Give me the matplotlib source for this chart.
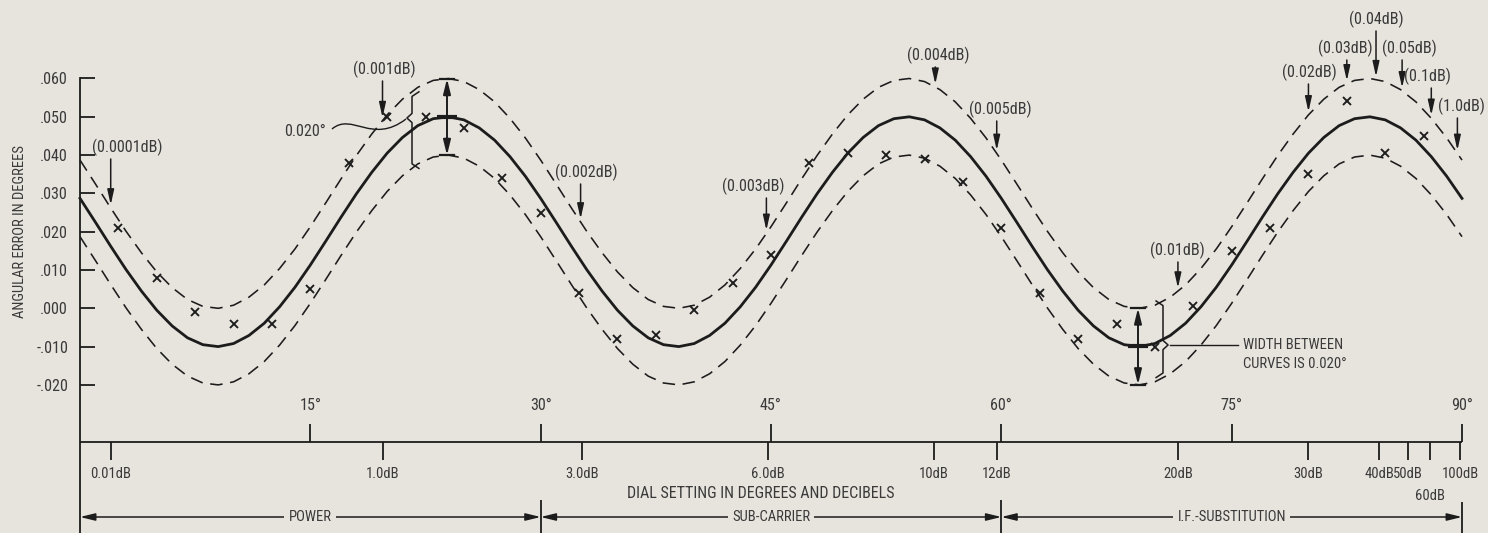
import numpy as np
import matplotlib
matplotlib.use('Agg')
import matplotlib.pyplot as plt
from matplotlib import font_manager as fm
from matplotlib.path import Path
from matplotlib.patches import PathPatch

# ---------------- data ----------------
dial_deg = list(range(0, 91))
solid_err = [
    0.0287, 0.0225, 0.0162, 0.0101, 0.0045, -0.0005, -0.0046, -0.0077, -0.0095, -0.0100,
    -0.0092, -0.0071, -0.0039, 0.0004, 0.0055, 0.0113, 0.0175, 0.0238, 0.0299, 0.0355,
    0.0405, 0.0446, 0.0477, 0.0495, 0.0500, 0.0492, 0.0471, 0.0439, 0.0396, 0.0345,
    0.0287, 0.0225, 0.0162, 0.0101, 0.0045, -0.0005, -0.0046, -0.0077, -0.0095, -0.0100,
    -0.0092, -0.0071, -0.0039, 0.0004, 0.0055, 0.0113, 0.0175, 0.0238, 0.0299, 0.0355,
    0.0405, 0.0446, 0.0477, 0.0495, 0.0500, 0.0492, 0.0471, 0.0439, 0.0396, 0.0345,
    0.0287, 0.0225, 0.0162, 0.0101, 0.0045, -0.0005, -0.0046, -0.0077, -0.0095, -0.0100,
    -0.0092, -0.0071, -0.0039, 0.0004, 0.0055, 0.0113, 0.0175, 0.0238, 0.0299, 0.0355,
    0.0405, 0.0446, 0.0477, 0.0495, 0.0500, 0.0492, 0.0471, 0.0439, 0.0396, 0.0345,
    0.0287]
band_half_width = 0.010

point_deg = [2.5, 5.0, 7.5, 10.0, 12.5, 15.0, 17.5, 20.0, 22.5, 25.0, 27.5, 30.0,
             32.5, 35.0, 37.5, 40.0, 42.5, 45.0, 47.5, 50.0, 52.5, 55.0, 57.5, 60.0,
             62.5, 65.0, 67.5, 70.0, 72.5, 75.0, 77.5, 80.0, 82.5, 85.0, 87.5]
point_err = [0.021, 0.008, -0.001, -0.004, -0.004, 0.005, 0.038, 0.050, 0.050, 0.047,
             0.034, 0.025, 0.004, -0.008, -0.007, -0.0005, 0.0065, 0.014, 0.038, 0.0405,
             0.040, 0.039, 0.033, 0.021, 0.004, -0.008, -0.004, -0.010, 0.0005, 0.015,
             0.021, 0.035, 0.054, 0.0405, 0.045]

y_ticks = [0.060, 0.050, 0.040, 0.030, 0.020, 0.010, 0.000, -0.010, -0.020]
y_tick_labels = ['.060', '.050', '.040', '.030', '.020', '.010', '.000', '-.010', '-.020']

deg_ticks = [15, 30, 45, 60, 75, 90]
deg_labels = ['15°', '30°', '45°', '60°', '75°', '90°']

db_deg = [2.0, 19.7, 32.7, 44.8, 55.6, 59.7, 71.5, 80.0, 84.6, 86.5, 87.9, 89.9]
db_labels = ['0.01dB', '1.0dB', '3.0dB', '6.0dB', '10dB', '12dB', '20dB', '30dB',
             '40dB', '50dB', '60dB', '100dB']

err_labels = ['(0.0001dB)', '(0.001dB)', '(0.002dB)', '(0.003dB)', '(0.004dB)',
              '(0.005dB)', '(0.01dB)', '(0.02dB)', '(0.03dB)', '(0.04dB)', '(0.05dB)',
              '(0.1dB)', '(1.0dB)']
err_deg = [2.0, 19.7, 32.6, 44.7, 55.7, 59.7, 71.5, 80.0, 82.5, 84.4, 86.1, 88.0, 89.7]

range_labels = ['POWER', 'SUB-CARRIER', 'I.F.-SUBSTITUTION']
range_start = [0, 30, 60]
range_end = [30, 60, 90]

width_deg_peak = 23.9     # width marker at first maximum
width_deg_trough = 68.9   # width marker at third minimum

# ---------------- layout (pixel placement on a 1488x533 canvas) ----------------
W, H = 1488, 533
X0, PXDEG = 80.0, 1382.0 / 90.0
Y60, PXUNIT = 78.5, 3830.0


def px2x(px):
    return (px - X0) / PXDEG


def py2y(py):
    return 0.060 - (py - Y60) / PXUNIT


err_text_px = [(92, 147), (384, 69), (586, 172), (753, 186), (938, 55), (1000, 109),
               (1177, 250), (1309, 72), (1345, 48), (1376, 19), (1409, 48), (1427, 76),
               (1461, 106)]

BG = '#e7e3dd'
LC = '#1c1c1c'
TC = '#3a3a3a'

try:
    fm.findfont('Roboto Condensed', fallback_to_default=False)
    FONT = ['Roboto Condensed', 'DejaVu Sans']
    FS, FSC, FSD, FSL = 11.6, 10.5, 10.5, 11.5
except ValueError:
    FONT = ['Liberation Sans', 'DejaVu Sans']
    FS, FSC, FSD, FSL = 10.5, 9.5, 9.7, 9.8

plt.rcParams['font.family'] = FONT
plt.rcParams['lines.scale_dashes'] = False

fig = plt.figure(figsize=(W / 100, H / 100), dpi=100, facecolor=BG)
ax = fig.add_axes([0, 0, 1, 1], facecolor=BG)
ax.set_xlim(px2x(0), px2x(W))
ax.set_ylim(py2y(H), py2y(0))

# ---------------- axes ----------------
for s in ['top', 'right', 'bottom']:
    ax.spines[s].set_visible(False)
ax.spines['left'].set_position(('data', 0))
ax.spines['left'].set_bounds(py2y(H), 0.060)
ax.spines['left'].set_linewidth(1.3)
ax.spines['left'].set_color(LC)
ax.set_yticks(y_ticks)
ax.set_yticklabels(y_tick_labels)
ax.tick_params(axis='y', direction='in', length=11, width=1.3, color=LC,
               pad=8.6, labelsize=FS, labelcolor=TC)
ax.set_xticks([])

ax.text(px2x(20), 0.020, 'ANGULAR ERROR IN DEGREES', rotation=90, ha='center',
        va='center', fontsize=FSC, color=TC)

# horizontal dial axis
y_axis = py2y(442)
ax.plot([0, 90], [y_axis, y_axis], color=LC, lw=1.3, solid_capstyle='butt')
ax.vlines(deg_ticks, y_axis, py2y(424), color=LC, lw=1.3)
for d, lab in zip(deg_ticks, deg_labels):
    ax.text(d, py2y(405), lab, ha='center', va='center', fontsize=FS, color=TC)
ax.vlines(db_deg, py2y(460), y_axis, color=LC, lw=1.3)
for d, lab in zip(db_deg, db_labels):
    yy = py2y(496) if lab == '60dB' else py2y(474)
    ax.text(d, yy, lab, ha='center', va='center', fontsize=FSD, color=TC)
ax.text(px2x(761), py2y(493), 'DIAL SETTING IN DEGREES AND DECIBELS', ha='center',
        va='center', fontsize=FSL, color=TC)

# range arrows
y_rng = py2y(517)
for a, b, lab in zip(range_start, range_end, range_labels):
    ax.annotate('', xy=(a, y_rng), xytext=(b, y_rng),
                arrowprops=dict(arrowstyle='<|-|>,head_length=0.9,head_width=0.22',
                                color=LC, lw=1.1, shrinkA=0, shrinkB=0))
    ax.text((a + b) / 2, y_rng, lab, ha='center', va='center', fontsize=FSC, color=TC,
            bbox=dict(boxstyle='square,pad=0.3', fc=BG, ec='none'))
ax.vlines([30, 60], py2y(H), py2y(500), color=LC, lw=1.3)
ax.vlines([90], py2y(H), py2y(502), color=LC, lw=1.3)

# ---------------- curves ----------------
x = np.array(dial_deg, dtype=float)
ys = np.array(solid_err)
ax.plot(x, ys, color=LC, lw=2.0)
ax.plot(x, ys + band_half_width, color=LC, lw=1.15, linestyle=(0, (9, 5.5)))
ax.plot(x, ys - band_half_width, color=LC, lw=1.15, linestyle=(0, (9, 5.5)))
ax.plot(point_deg, point_err, linestyle='none', marker='x', ms=5.8, mew=1.35, color=LC)


def upper(d):
    return np.interp(d, x, ys) + band_half_width


def lower(d):
    return np.interp(d, x, ys) - band_half_width


# ---------------- error annotations ----------------
for lab, d, (tx, ty) in zip(err_labels, err_deg, err_text_px):
    ha = 'left' if lab == '(0.0001dB)' else 'center'
    ax.text(px2x(tx), py2y(ty), lab, ha=ha, va='center', fontsize=FS, color=TC)
    ax.annotate('', xy=(d, upper(d) + 0.0008), xytext=(d, py2y(ty + 12)),
                arrowprops=dict(arrowstyle='-|>,head_length=0.9,head_width=0.2',
                                color=LC, lw=1.1, shrinkA=0, shrinkB=0))


def width_marker(d):
    top, bot = upper(d), lower(d)
    ax.annotate('', xy=(d, top), xytext=(d, bot),
                arrowprops=dict(arrowstyle='<|-|>,head_length=0.9,head_width=0.22',
                                color=LC, lw=1.4, shrinkA=0, shrinkB=0))
    hw = 0.45
    ax.plot([d - hw, d + hw], [top, top], color=LC, lw=1.6)
    ax.plot([d - hw, d + hw], [bot, bot], color=LC, lw=1.6)
    mid = np.interp(d, x, ys)
    ax.plot([d - 0.65, d + 0.65], [mid, mid], color=LC, lw=3.0, solid_capstyle='butt')


width_marker(width_deg_peak)
width_marker(width_deg_trough)


def brace(d, direction, tip_y):
    top, bot = upper(d), lower(d)
    dx = 0.33 * direction
    hook = -0.45 * direction
    r = 0.0012
    pts = [(d + hook, top), (d, top - r), (d, tip_y + r), (d + dx, tip_y),
           (d, tip_y - r), (d, bot + r), (d + hook, bot)]
    xs, yv = zip(*pts)
    ax.plot(xs, yv, color=LC, lw=1.1, solid_joinstyle='round')


# left brace with wavy leader (first peak)
brace(px2x(412), -1, py2y(118))
ax.text(px2x(305), py2y(131), '0.020°', ha='center', va='center', fontsize=FS, color=TC)
verts = [(px2x(332), py2y(129)), (px2x(352), py2y(112)), (px2x(372), py2y(145)),
         (px2x(406), py2y(119))]
ax.add_patch(PathPatch(Path(verts, [Path.MOVETO, Path.CURVE4, Path.CURVE4, Path.CURVE4]),
                       fc='none', ec=LC, lw=1.0))

# right brace with leader (third minimum)
brace(px2x(1163), 1, py2y(345))
ax.plot([px2x(1170), px2x(1238)], [py2y(345), py2y(345)], color=LC, lw=1.0)
ax.text(px2x(1243), py2y(345), 'WIDTH BETWEEN', ha='left', va='center', fontsize=FSC, color=TC)
ax.text(px2x(1243), py2y(364), 'CURVES IS 0.020°', ha='left', va='center', fontsize=FSC, color=TC)

fig.savefig('out.png', dpi=100, facecolor=BG)
